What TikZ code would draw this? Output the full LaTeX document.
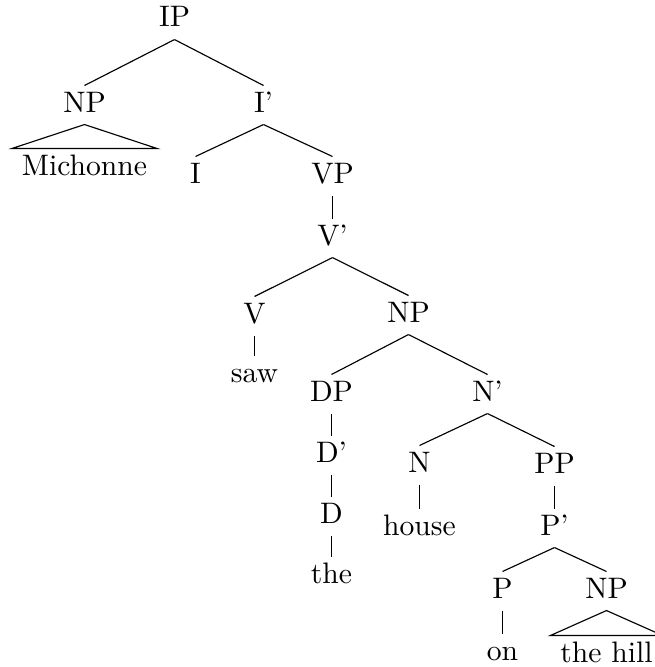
\documentclass[tikz,border=0pt]{standalone}
\begin{document}
\begin{tikzpicture}[x=0.3509pt,y=-0.3509pt,
  tn/.style={anchor=base,font=\fontsize{10.4}{12}\selectfont,inner xsep=3.3pt,inner ysep=0pt,text height=9.1pt,text depth=4.2pt},
  edge/.style={draw=black,line width=0.4pt}]
\useasboundingbox (0,0) rectangle (655,667);
\begin{scope}[shift={(0.5,0)}]
\node[tn] (IP) at (174,27) {IP};
\node[tn] (NPa) at (84,112) {NP};
\node[tn] (Ib) at (263,112) {I'};
\node[tn] (Mich) at (84,175) {Michonne};
\node[tn] (I) at (195,183) {I};
\node[tn] (VP) at (332,183) {VP};
\node[tn] (Vb) at (332,245) {V'};
\node[tn] (V) at (254,323) {V};
\node[tn] (NPb) at (408,322) {NP};
\node[tn] (saw) at (254,382) {saw};
\node[tn] (DP) at (331,401) {DP};
\node[tn] (Nb) at (487,401) {N'};
\node[tn] (Db) at (331,462) {D'};
\node[tn] (N) at (419,472) {N};
\node[tn] (PP) at (554,473) {PP};
\node[tn] (D) at (331,523) {D};
\node[tn] (house) at (419,535) {house};
\node[tn] (Pb) at (554,535) {P'};
\node[tn] (the) at (331,583) {the};
\node[tn] (P) at (502,598) {P};
\node[tn] (NPc) at (606,598) {NP};
\node[tn] (on) at (502,660) {on};
\node[tn] (hill) at (606,662) {the hill};
\end{scope}
\draw[edge] (IP.south) -- (NPa.north);
\draw[edge] (IP.south) -- (Ib.north);
\draw[edge] (NPa.south) -- (Mich.north west) -- (Mich.north east) -- cycle;
\draw[edge] (Ib.south) -- (I.north);
\draw[edge] (Ib.south) -- (VP.north);
\draw[edge] (VP.south) -- (Vb.north);
\draw[edge] (Vb.south) -- (V.north);
\draw[edge] (Vb.south) -- (NPb.north);
\draw[edge] (V.south) -- (saw.north);
\draw[edge] (NPb.south) -- (DP.north);
\draw[edge] (NPb.south) -- (Nb.north);
\draw[edge] (DP.south) -- (Db.north);
\draw[edge] (Db.south) -- (D.north);
\draw[edge] (D.south) -- (the.north);
\draw[edge] (Nb.south) -- (N.north);
\draw[edge] (Nb.south) -- (PP.north);
\draw[edge] (N.south) -- (house.north);
\draw[edge] (PP.south) -- (Pb.north);
\draw[edge] (Pb.south) -- (P.north);
\draw[edge] (Pb.south) -- (NPc.north);
\draw[edge] (P.south) -- (on.north);
\draw[edge] (NPc.south) -- (hill.north west) -- (hill.north east) -- cycle;
\end{tikzpicture}
\end{document}
